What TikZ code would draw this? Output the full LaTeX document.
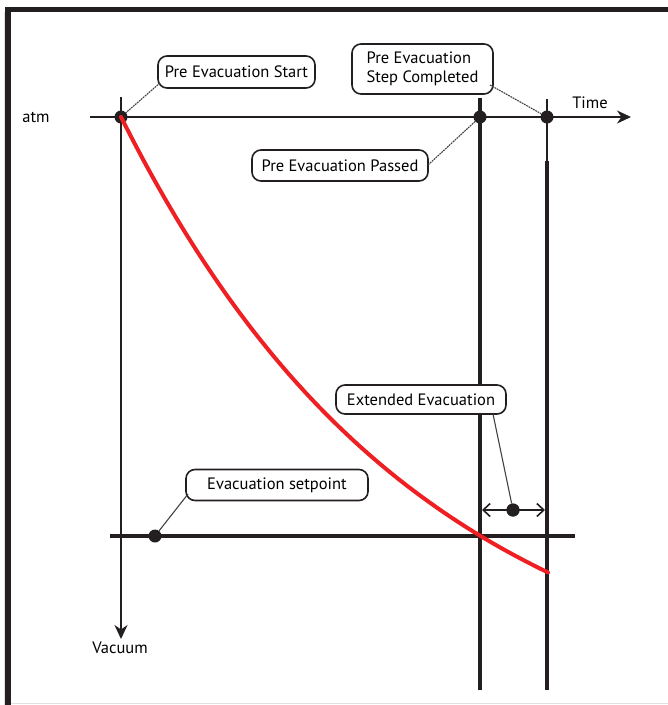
\documentclass[tikz,border=0pt]{standalone}
\usepackage{fontspec}
\setmainfont{PT Sans}
\usetikzlibrary{arrows.meta}
\definecolor{ink}{HTML}{231F20}
\definecolor{curvered}{HTML}{EE2024}
\begin{document}
\begin{tikzpicture}[x=1pt,y=-1pt,
  callout/.style={draw=ink, line width=1.6pt, rounded corners=9pt, fill=white,
    font=\fontsize{16.5}{19}\selectfont, align=left, inner sep=0pt},
  dot/.style={circle, fill=ink, inner sep=0pt, minimum size=13pt},
  leader/.style={draw=ink!85, line width=1.1pt, dash pattern=on 1.8pt off 0.8pt},
  axis/.style={draw=ink, line width=2.2pt},
  marker/.style={draw=ink, line width=3.4pt},
  lbl/.style={font=\fontsize{16.5}{19}\selectfont, inner sep=0pt},
  bigtip/.style={-{Stealth[length=14pt,width=13pt,inset=4.5pt]}}]
\useasboundingbox (0,0) rectangle (668,705);
\fill[white] (0,0) rectangle (668,705);

% frame
\fill[ink] (5,7) rectangle (668,12);
\fill[ink] (5,7) rectangle (11,705);
\draw[black!12, line width=0.8pt] (11,703.5) -- (668,703.5);
\draw[black!12, line width=0.8pt] (4,12) -- (4,705);

% point markers
\node[dot] (d0) at (121,117) {};
\node[dot] (d1) at (480,117) {};
\node[dot] (d2) at (547,117) {};
\node[dot] (dsp) at (155,536) {};
\node[dot] (dmid) at (513,510) {};

% end points of the guide lines
\coordinate (h0) at (90,117);
\coordinate (h1) at (631,117);
\coordinate (v0) at (121,97);
\coordinate (v1) at (121,639);
\coordinate (p1top) at (480,98);
\coordinate (p1bot) at (480,690);
\coordinate (p2top) at (547,99);
\coordinate (p2mid) at (547,161);
\coordinate (p2bot) at (547,690);
\coordinate (s0) at (110,536);
\coordinate (s1) at (575,536);

% setpoint level and time markers
\draw[marker] (s0) -- (s1);
\draw[marker] (p1top) -- (p1bot);
\draw[axis] (p2top) -- (p2mid);
\draw[marker] (p2mid) -- (p2bot);

% axes
\draw[axis, bigtip] (h0) -- (h1);
\draw[axis, bigtip] (v0) -- (v1);

% pressure curve
\draw[curvered, line width=4pt, line cap=round]
  plot[domain=121:548, samples=80] (\x, {117+600*(1-exp(-(\x-121)/300))});

% extended evacuation span
\draw[ink, line width=1.6pt,
  {Straight Barb[length=7pt,width=13pt]}-{Straight Barb[length=7pt,width=13pt]}]
  ([xshift=2pt]p1top |- dmid) -- ([xshift=-2pt]p2top |- dmid);
\node[dot] at (dmid) {};

% labels
\node[lbl] (atm) at (36,117) {atm};
\node[lbl] (time) at (590,103) {Time};
\node[lbl] (vac) at (120,648) {Vacuum};

% callouts
\node[callout, minimum width=157pt, minimum height=32pt] (cs) at (236.5,72) {Pre Evacuation Start};
\node[callout, minimum width=141pt, minimum height=50pt] (cc) at (422.5,69) {Pre Evacuation\\Step Completed};
\node[callout, minimum width=176pt, minimum height=31pt] (cp) at (340,165.5) {Pre Evacuation Passed};
\node[callout, minimum width=170pt, minimum height=29pt] (ce) at (421,399.5) {Extended Evacuation};
\node[callout, minimum width=182pt, minimum height=31pt] (cv) at (277,485) {Evacuation setpoint};

\coordinate (csl) at (160,83);
\coordinate (ccl) at (490,85);
\coordinate (cpl) at (428,165);
\coordinate (cel) at (493,414);
\coordinate (cvl) at (188,494);

\draw[leader] (csl) -- (d0);
\draw[leader] (ccl) -- (d2);
\draw[leader] (cpl) -- (d1);
\draw[ink!85, line width=1.1pt] (cel) -- (dmid);
\draw[ink!85, line width=1.1pt] (cvl) -- (dsp);
\end{tikzpicture}
\end{document}
